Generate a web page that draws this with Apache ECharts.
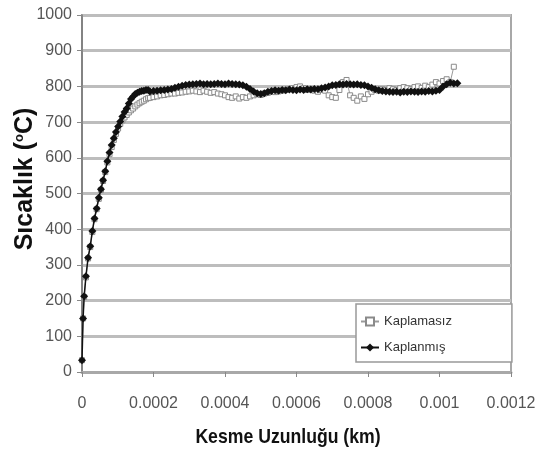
<!DOCTYPE html>
<html><head><meta charset="utf-8">
<script src="https://cdn.jsdelivr.net/npm/echarts@6/dist/echarts.min.js"></script>
<style>html,body{margin:0;padding:0;background:#fff}#c{width:541px;height:462px}</style>
</head><body><div id="c"></div>
<script>
// Kesme uzunluğu in micrometres (converted to km below)
const xUm = [
  0,3,6,11,17,23,29,35,41,47,53,59,65,71,77,83,89,95,101,107,113,119,125,131,137,143,149,155,161,167,173,179,185,
  190,200,210,220,230,240,250,260,270,280,
  290,300,310,320,330,340,350,360,370,380,
  390,400,410,420,430,440,450,460,470,480,
  490,500,510,520,530,540,550,560,570,580,
  590,600,610,620,630,640,650,660,670,680,
  690,700,710,720,730,740,750,760,770,780,
  790,800,810,820,830,840,850,860,870,880,
  890,900,910,920,930,940,950,960,970,980,
  990,1000,1010,1020,1030,1040,1050
];
const kaplanmis = [
  33,150,212,268,320,352,395,430,458,488,512,537,562,590,615,636,655,672,688,702,716,728,738,752,765,772,779,782,785,787,788,790,790,
  786,787,788,789,790,791,793,796,799,802,
  804,805,806,807,808,806,807,806,807,808,
  807,806,808,807,806,805,803,799,793,786,
  781,779,781,785,787,789,788,790,789,791,
  790,789,791,790,792,791,793,792,795,797,
  800,803,804,806,805,807,806,805,806,804,
  803,800,796,792,789,787,786,785,784,785,
  783,785,784,786,785,784,786,785,787,786,
  788,790,800,806,810,808,809
];
const kaplamasiz = [
  33,150,210,265,318,350,392,428,456,485,510,535,560,587,610,630,650,667,682,695,705,713,720,727,733,738,744,749,753,757,760,764,767,
  768,770,772,775,776,778,780,780,782,783,
  785,786,788,786,784,788,785,782,784,780,
  778,775,770,768,772,766,770,768,772,775,
  778,776,780,782,785,784,786,788,790,792,
  795,798,800,795,790,792,788,785,790,788,
  775,770,768,790,812,818,775,768,760,772,
  765,778,785,790,788,792,790,795,792,790,
  795,798,795,792,798,800,796,802,798,805,
  812,808,815,820,812,855,null
];
const seriesNames = ['Kaplamasız', 'Kaplanmış'];
const xMin = 0, xMax = 0.0012, xStep = 0.0002;
const yMin = 0, yMax = 1000, yStep = 100;

function pairs(vals){
  const out = [];
  for (let i = 0; i < xUm.length; i++) if (vals[i] != null) out.push([xUm[i] / 1e6, vals[i]]);
  return out;
}

const FONT = '"Liberation Sans", Arial, sans-serif';
const chart = echarts.init(document.getElementById('c'), null, {renderer: 'canvas'});
chart.setOption({
  animation: false,
  backgroundColor: '#fff',
  grid: {left: 82, right: 30, top: 15, bottom: 90, show: true, borderColor: '#a8a8a8', borderWidth: 2, backgroundColor: '#fff'},
  xAxis: {
    type: 'value', min: xMin, max: xMax, interval: xStep,
    axisLine: {show: true, onZero: false, lineStyle: {color: '#a8a8a8', width: 3}},
    axisTick: {show: true, length: 5, lineStyle: {color: '#888', width: 1}},
    splitLine: {show: false},
    axisLabel: {margin: 24, fontSize: 16, color: '#555', fontFamily: FONT,
      formatter: v => String(parseFloat(v.toFixed(4)))}
  },
  yAxis: {
    type: 'value', min: yMin, max: yMax, interval: yStep,
    axisLine: {show: true, lineStyle: {color: '#777', width: 1.5}},
    axisTick: {show: true, length: 5, lineStyle: {color: '#888', width: 1}},
    splitLine: {show: true, lineStyle: {color: '#bdbdbd', width: 3}},
    axisLabel: {margin: 10, fontSize: 16, color: '#555', fontFamily: FONT,
      formatter: v => String(Math.round(v))}
  },
  legend: {
    orient: 'vertical', left: 356, top: 304,
    padding: [11, 60, 8, 4], itemGap: 13, itemWidth: 18, itemHeight: 10, itemTextGap: 3,
    backgroundColor: '#fff', borderColor: '#999', borderWidth: 1.5,
    textStyle: {fontSize: 13, color: '#333', fontFamily: FONT},
    data: seriesNames
  },
  graphic: [
    {type: 'text', x: 288, y: 437, z: 10, scaleX: 0.84,
      style: {text: 'Kesme Uzunluğu (km)', font: 'bold 21px "Liberation Sans", Arial, sans-serif',
        fill: '#111', align: 'center', verticalAlign: 'middle'}},
    {type: 'text', x: 25, y: 179, rotation: Math.PI / 2, z: 10,
      style: {text: '{a|Sıcaklık (}{s|o}{a|C)}', align: 'center', verticalAlign: 'middle',
        rich: {
          a: {fontSize: 25, fontWeight: 'bold', fill: '#111', color: '#111', fontFamily: FONT},
          s: {fontSize: 13, fontWeight: 'bold', fill: '#111', color: '#111', verticalAlign: 'top', fontFamily: FONT}
        }}}
  ],
  series: [
    {name: seriesNames[0], type: 'line', data: pairs(kaplamasiz), showAllSymbol: true,
      symbol: 'rect', symbolSize: 5, z: 2,
      itemStyle: {color: '#fff', borderColor: '#8a8a8a', borderWidth: 1},
      lineStyle: {color: '#9a9a9a', width: 1}},
    {name: seriesNames[1], type: 'line', data: pairs(kaplanmis), showAllSymbol: true,
      symbol: 'diamond', symbolSize: 8, z: 3,
      itemStyle: {color: '#111'},
      lineStyle: {color: '#111', width: 1.5}}
  ]
});
</script>
</body></html>
